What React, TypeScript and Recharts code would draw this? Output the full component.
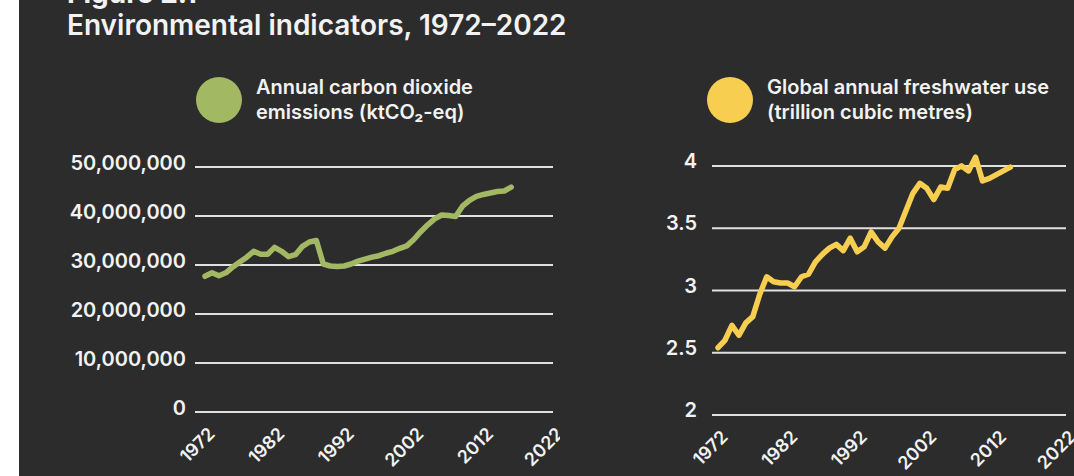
import { LineChart, Line, XAxis, YAxis, CartesianGrid } from 'recharts';

// annual CO2 emissions, ktCO2-eq
const co2Years = [
  1972, 1973, 1974, 1975, 1976, 1977, 1978, 1979, 1980, 1981,
  1982, 1983, 1984, 1985, 1986, 1987, 1988, 1989, 1990, 1991,
  1992, 1993, 1994, 1995, 1996, 1997, 1998, 1999, 2000, 2001,
  2002, 2003, 2004, 2005, 2006, 2007, 2008, 2009, 2010, 2011,
  2012, 2013, 2014, 2015, 2016,
];
const co2Values = [
  27700000, 28400000, 27800000, 28400000, 29600000, 30600000, 31600000, 32800000, 32200000, 32200000,
  33600000, 32800000, 31700000, 32100000, 33800000, 34700000, 35000000, 30200000, 29800000, 29700000,
  29800000, 30200000, 30800000, 31200000, 31600000, 31900000, 32400000, 32800000, 33400000, 33900000,
  35200000, 36800000, 38200000, 39400000, 40200000, 40100000, 39900000, 42000000, 43200000, 44000000,
  44400000, 44700000, 45000000, 45100000, 45900000,
];

// global freshwater use, trillion m3
const waterYears = [
  1972, 1973, 1974, 1975, 1976, 1977, 1978, 1979, 1980, 1981,
  1982, 1983, 1984, 1985, 1986, 1987, 1988, 1989, 1990, 1991,
  1992, 1993, 1994, 1995, 1996, 1997, 1998, 1999, 2000, 2001,
  2002, 2003, 2004, 2005, 2006, 2007, 2008, 2009, 2010, 2011,
  2012, 2013, 2014,
];
const waterValues = [
  2.54, 2.6, 2.72, 2.64, 2.74, 2.79, 2.97, 3.11, 3.07, 3.06,
  3.06, 3.03, 3.11, 3.13, 3.23, 3.29, 3.34, 3.37, 3.32, 3.42,
  3.31, 3.35, 3.47, 3.39, 3.34, 3.43, 3.5, 3.64, 3.78, 3.86,
  3.82, 3.73, 3.83, 3.82, 3.97, 4.0, 3.96, 4.07, 3.88, 3.9,
  3.93, 3.96, 3.99,
];

const yearTicks = [1972, 1982, 1992, 2002, 2012, 2022];
const co2Ticks = [0, 10000000, 20000000, 30000000, 40000000, 50000000];
const waterTicks = [2, 2.5, 3, 3.5, 4];

const co2Data = co2Years.map((year, i) => ({ year, value: co2Values[i] }));
const waterData = waterYears.map((year, i) => ({ year, value: waterValues[i] }));

const BG = '#2c2c2c';
const TEXT = '#f2f2f2';
const GRID = '#e0e0e0';
const GREEN = '#a2b862';
const YELLOW = '#f7ce4f';
const FONT = 'Inter, "Noto Sans", sans-serif';

const YearTick = (props: any) => {
  const { x, y, payload } = props;
  return (
    <g transform={`translate(${x + 11},${y + 15})`}>
      <text textAnchor="end" transform="rotate(-45)" fill={TEXT} fontSize={18} fontWeight={600} fontFamily={FONT}>
        {payload.value}
      </text>
    </g>
  );
};

function LegendItem({ color, lines, left, top }: { color: string; lines: string[]; left: number; top: number }) {
  return (
    <div style={{ position: 'absolute', left, top, display: 'flex', alignItems: 'center' }}>
      <div style={{ width: 46, height: 46, borderRadius: '50%', background: color }} />
      <div style={{ marginLeft: 14, color: TEXT, fontSize: 20, fontWeight: 600, lineHeight: '25px', whiteSpace: 'nowrap' }}>
        {lines.map((l, i) => <div key={i}>{l}</div>)}
      </div>
    </div>
  );
}

export default function App() {
  return (
    <div style={{ position: 'absolute', left: 0, top: 0, width: 1074, height: 476, background: '#fff', overflow: 'hidden', fontFamily: FONT }}>
      <style>{'body{margin:0}'}</style>
      <div style={{ position: 'absolute', left: 19, top: 0, width: 1055, height: 476, background: BG }} />

      <div style={{ position: 'absolute', left: 67, top: -21, color: TEXT, fontSize: 28, fontWeight: 700, lineHeight: 1 }}>Figure 2.1</div>
      <div style={{ position: 'absolute', left: 67, top: 11, color: TEXT, fontSize: 28, fontWeight: 600, lineHeight: 1 }}>
        Environmental indicators, 1972–2022
      </div>

      <LegendItem color={GREEN} lines={['Annual carbon dioxide', 'emissions (ktCO₂-eq)']} left={196} top={75} />
      <LegendItem color={YELLOW} lines={['Global annual freshwater use', '(trillion cubic metres)']} left={707} top={75} />

      <div style={{ position: 'absolute', left: 0, top: 0 }}>
        <LineChart width={560} height={476} data={co2Data} margin={{ top: 167, right: 7, bottom: 0, left: 0 }}>
          <CartesianGrid horizontal vertical={false} horizontalValues={co2Ticks} stroke={GRID} strokeWidth={2} />
          <XAxis
            dataKey="year"
            type="number"
            domain={[1972, 2022]}
            ticks={yearTicks}
            interval={0}
            padding={{ left: 10, right: 0 }}
            axisLine={false}
            tickLine={false}
            height={64}
            tick={<YearTick />}
          />
          <YAxis
            width={195}
            domain={[0, 50000000]}
            ticks={co2Ticks}
            interval={0}
            axisLine={false}
            tickLine={false}
            tickFormatter={(v: number) => v.toLocaleString('en-US')}
            tick={{ fill: TEXT, fontSize: 20, fontWeight: 600, fontFamily: FONT, dx: -1, dy: -4 }}
          />
          <Line
            type="linear"
            dataKey="value"
            stroke={GREEN}
            strokeWidth={5.5}
            strokeLinejoin="round"
            strokeLinecap="round"
            dot={false}
            isAnimationActive={false}
          />
        </LineChart>
      </div>

      <div style={{ position: 'absolute', left: 560, top: 0 }}>
        <LineChart width={514} height={476} data={waterData} margin={{ top: 141, right: 8, bottom: 0, left: 0 }}>
          <CartesianGrid horizontal vertical={false} horizontalValues={waterTicks} stroke={GRID} strokeWidth={2} />
          <XAxis
            dataKey="year"
            type="number"
            domain={[1972, 2022]}
            ticks={yearTicks}
            interval={0}
            padding={{ left: 6, right: 0 }}
            axisLine={false}
            tickLine={false}
            height={61}
            tick={<YearTick />}
          />
          <YAxis
            width={152}
            domain={[2, 4.2]}
            ticks={waterTicks}
            interval={0}
            axisLine={false}
            tickLine={false}
            tick={{ fill: TEXT, fontSize: 20, fontWeight: 600, fontFamily: FONT, dx: -7, dy: -5 }}
          />
          <Line
            type="linear"
            dataKey="value"
            stroke={YELLOW}
            strokeWidth={5.5}
            strokeLinejoin="round"
            strokeLinecap="round"
            dot={false}
            isAnimationActive={false}
          />
        </LineChart>
      </div>
    </div>
  );
}
